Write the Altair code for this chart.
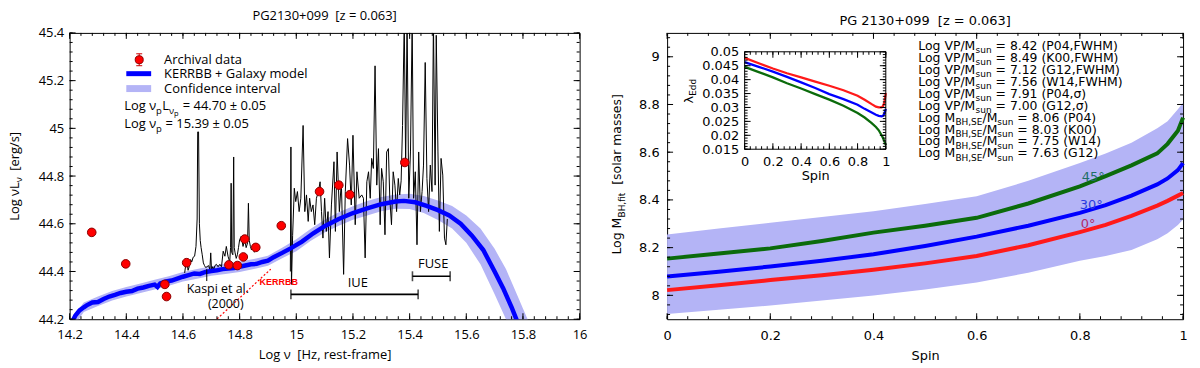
import altair as alt
import pandas as pd

# ---------------- left panel data ----------------
arch_nu = [14.278, 14.398, 14.536, 14.542, 14.613, 14.762, 14.792, 14.813, 14.818, 14.857, 14.947, 15.082, 15.150, 15.189, 15.383]
arch_L = [44.564, 44.432, 44.346, 44.295, 44.437, 44.428, 44.425, 44.461, 44.536, 44.501, 44.592, 44.735, 44.762, 44.722, 44.857]

model_nu = [14.21, 14.22, 14.235, 14.25, 14.26, 14.28, 14.30, 14.32, 14.34, 14.36,
            14.38, 14.40, 14.42, 14.44, 14.46, 14.48, 14.50, 14.51, 14.52, 14.54,
            14.56, 14.58, 14.60, 14.62, 14.64, 14.66, 14.68, 14.70, 14.72, 14.74,
            14.76, 14.78, 14.80, 14.82, 14.84, 14.86, 14.88, 14.90, 14.92, 14.95,
            14.98, 15.02, 15.06, 15.10, 15.15, 15.20, 15.25, 15.30, 15.35, 15.38,
            15.42, 15.46, 15.50, 15.54, 15.58, 15.62, 15.66, 15.70, 15.73, 15.76, 15.78]
model_L = [44.19, 44.215, 44.237, 44.25, 44.258, 44.27, 44.272, 44.285, 44.295, 44.302,
           44.31, 44.315, 44.318, 44.328, 44.333, 44.34, 44.345, 44.335, 44.35, 44.358,
           44.362, 44.37, 44.378, 44.385, 44.392, 44.39, 44.398, 44.402, 44.405, 44.41,
           44.412, 44.415, 44.42, 44.425, 44.43, 44.432, 44.44, 44.445, 44.46, 44.478,
           44.497, 44.525, 44.56, 44.59, 44.62, 44.645, 44.665, 44.682, 44.693, 44.696,
           44.69, 44.675, 44.657, 44.635, 44.60, 44.55, 44.49, 44.40, 44.33, 44.25, 44.19]

band_nu = [14.20, 14.25, 14.30, 14.35, 14.40, 14.45, 14.50, 14.55, 14.60, 14.65,
           14.70, 14.75, 14.80, 14.85, 14.90, 14.95, 15.00, 15.05, 15.10, 15.15,
           15.20, 15.25, 15.30, 15.35, 15.40, 15.45, 15.50, 15.55, 15.60, 15.65,
           15.70, 15.74, 15.78, 15.80, 15.82]
band_hi = [44.195, 44.27, 44.295, 44.318, 44.335, 44.35, 44.365, 44.38, 44.398, 44.41,
           44.422, 44.432, 44.442, 44.452, 44.466, 44.50, 44.535, 44.578, 44.617, 44.648,
           44.673, 44.695, 44.712, 44.723, 44.726, 44.716, 44.698, 44.675, 44.635, 44.58,
           44.495, 44.41, 44.30, 44.245, 44.19]
band_lo = [44.145, 44.23, 44.255, 44.278, 44.295, 44.31, 44.325, 44.34, 44.358, 44.37,
           44.382, 44.39, 44.398, 44.41, 44.424, 44.456, 44.485, 44.528, 44.563, 44.592,
           44.617, 44.635, 44.652, 44.663, 44.662, 44.645, 44.616, 44.58, 44.52, 44.43,
           44.305, 44.20, 44.08, 44.02, 43.95]

opt_nu = [14.606, 14.610, 14.614, 14.618, 14.622, 14.627, 14.631, 14.636, 14.641, 14.646,
          14.650, 14.652, 14.655, 14.658, 14.661, 14.664, 14.668, 14.672, 14.676, 14.680,
          14.685, 14.690, 14.695, 14.698, 14.701, 14.705, 14.709, 14.713, 14.718, 14.724,
          14.730, 14.736, 14.742, 14.748, 14.753, 14.759, 14.765, 14.768, 14.770, 14.772,
          14.776, 14.779, 14.781, 14.784, 14.788, 14.792, 14.796, 14.800, 14.806, 14.812,
          14.818, 14.823, 14.828, 14.831, 14.834, 14.838, 14.842, 14.847, 14.852]
opt_L = [44.394, 44.43, 44.44, 44.405, 44.42, 44.45, 44.44, 44.46, 44.464, 44.505,
         44.62, 44.985, 44.985, 44.60, 44.53, 44.50, 44.47, 44.436, 44.425, 44.417,
         44.42, 44.425, 44.41, 44.478, 44.40, 44.42, 44.41, 44.425, 44.43, 44.42,
         44.43, 44.42, 44.485, 44.464, 44.505, 44.464, 44.44, 44.50, 44.77, 44.48,
         44.47, 44.88, 44.50, 44.478, 44.455, 44.47, 44.50, 44.533, 44.548, 44.505,
         44.533, 44.50, 44.52, 44.686, 44.53, 44.505, 44.49, 44.50, 44.48]

uv_nu = [14.979, 14.981, 14.983, 14.987, 14.993, 14.998, 15.004, 15.010, 15.016, 15.024,
         15.030, 15.036, 15.042, 15.047, 15.053, 15.059, 15.065, 15.071, 15.078, 15.084,
         15.089, 15.094, 15.100, 15.106, 15.112, 15.117, 15.124, 15.133, 15.138, 15.144,
         15.152, 15.159, 15.167, 15.173, 15.181, 15.188, 15.194, 15.200, 15.208, 15.214,
         15.222, 15.231, 15.237, 15.243, 15.249, 15.255, 15.261, 15.266, 15.272, 15.278,
         15.284, 15.290, 15.296, 15.301, 15.307, 15.313, 15.319, 15.325, 15.330, 15.336,
         15.342, 15.348, 15.354, 15.360, 15.365, 15.370, 15.375, 15.381, 15.386, 15.391,
         15.397, 15.403, 15.409, 15.414, 15.420, 15.426, 15.432, 15.438, 15.444, 15.449,
         15.455, 15.461, 15.467, 15.473, 15.479, 15.484, 15.490, 15.494, 15.500, 15.505,
         15.511, 15.517, 15.523, 15.528, 15.533]
uv_L = [44.40, 44.922, 44.346, 44.55, 44.749, 44.693, 44.735, 44.651, 44.707, 45.012,
        44.651, 44.721, 44.61, 44.707, 44.651, 44.679, 44.596, 44.707, 44.735, 44.776,
        44.651, 44.54, 44.707, 44.568, 44.651, 44.457, 44.679, 44.86, 44.568, 44.901,
        44.651, 44.776, 44.388, 44.735, 44.957, 44.846, 44.679, 44.971, 44.596, 44.818,
        44.707, 44.721, 44.707, 44.457, 44.776, 44.818, 44.707, 44.874, 44.832, 45.262,
        44.762, 44.915, 44.596, 44.832, 44.776, 44.554, 44.901, 44.915, 44.707, 44.596,
        44.818, 44.762, 44.651, 44.79, 44.721, 44.78, 45.012, 45.45, 44.846, 45.45,
        44.707, 44.901, 45.45, 44.707, 44.818, 44.512, 44.901, 44.651, 44.735, 44.846,
        45.276, 44.79, 44.651, 44.846, 44.735, 45.45, 44.762, 45.39, 44.901, 44.568,
        44.874, 44.804, 44.54, 44.512, 44.62]

kerrbb_nu = [14.71, 14.91]
kerrbb_L = [44.19, 44.41]

bar_names = ["IUE", "FUSE"]
bar_start = [14.981, 15.41]
bar_end = [15.43, 15.543]
bar_L = [44.304, 44.38]
bar_label_nu = [15.217, 15.483]
bar_label_L = [44.35, 44.432]

ann_text = ["Kaspi et al.", "(2000)"]
ann_nu = [14.723, 14.751]
ann_L = [44.327, 44.263]
kaspi_mark_nu = [14.684]
kaspi_mark_lo = [44.36]
kaspi_mark_hi = [44.41]
kerrbb_label_nu = [14.938]
kerrbb_label_L = [44.355]

legend_labels = ["Archival data", "KERRBB + Galaxy model", "Confidence interval"]
peak_lum = "44.70 ± 0.05"
peak_nu = "15.39 ± 0.05"

# ---------------- right panel data ----------------
spin = [0, 0.1, 0.2, 0.3, 0.4, 0.5, 0.6, 0.7, 0.8, 0.85, 0.9, 0.95, 0.97, 0.99, 1.0]
m_0 = [8.022, 8.042, 8.064, 8.084, 8.107, 8.134, 8.165, 8.21, 8.265, 8.295, 8.333, 8.376, 8.396, 8.418, 8.429]
m_30 = [8.079, 8.099, 8.121, 8.145, 8.172, 8.207, 8.246, 8.292, 8.346, 8.378, 8.418, 8.465, 8.49, 8.525, 8.554]
m_45 = [8.154, 8.175, 8.197, 8.228, 8.263, 8.292, 8.325, 8.385, 8.457, 8.50, 8.545, 8.595, 8.635, 8.69, 8.745]
m_band_hi = [8.255, 8.28, 8.304, 8.328, 8.353, 8.383, 8.415, 8.48, 8.555, 8.595, 8.64, 8.70, 8.73, 8.78, 8.807]
m_band_lo = [7.922, 7.94, 7.957, 7.978, 7.999, 8.025, 8.054, 8.095, 8.145, 8.165, 8.19, 8.235, 8.26, 8.295, 8.318]
incl = ["0°", "30°", "45°"]
incl_label_spin = [0.816, 0.822, 0.826]
incl_label_m = [8.297, 8.38, 8.496]

spin_in = [0, 0.1, 0.2, 0.3, 0.4, 0.5, 0.6, 0.7, 0.8, 0.85, 0.9, 0.93, 0.95, 0.97, 0.98, 0.99, 1.0]
lam_0 = [0.0478, 0.0459, 0.0440, 0.0423, 0.0408, 0.0393, 0.0378, 0.0362, 0.0342, 0.0328, 0.0312, 0.0303, 0.0300, 0.0300, 0.0305, 0.0318, 0.0352]
lam_30 = [0.0463, 0.0446, 0.0429, 0.0410, 0.0390, 0.0370, 0.0348, 0.0330, 0.0310, 0.0295, 0.0282, 0.0274, 0.0270, 0.0268, 0.0270, 0.0278, 0.0295]
lam_45 = [0.0446, 0.0427, 0.0408, 0.0387, 0.0368, 0.0348, 0.0328, 0.0306, 0.0280, 0.0264, 0.0244, 0.0230, 0.0218, 0.0200, 0.0190, 0.0178, 0.0165]

vp_values = ["8.42 (P04,FWHM)", "8.49 (K00,FWHM)", "7.12 (G12,FWHM)", "7.56 (W14,FWHM)", "7.91 (P04,σ)", "7.00 (G12,σ)"]
se_values = ["8.06 (P04)", "8.03 (K00)", "7.75 (W14)", "7.63 (G12)"]

# ---------------- styling ----------------
FL = "Open Sans"
FR = "DejaVu Sans"
WL, WR, H = 513, 519, 288
NB = "\u00a0"
C_RED, C_BLUE, C_GREEN = "#ff1a1a", "#0000ff", "#0b6b0b"
BAND = "#b4b4f6"
INC_COLORS = [C_RED, C_BLUE, C_GREEN]
INC_LABEL_COLORS = ["#b02a6a", "#2a3ae0", "#1f6f66"]
BIG, SMALL = 6, 3

DV = {"L": .557, "o": .612, "g": .635, " ": .318, "V": .684, "P": .603, "/": .337, "M": .863,
      "s": .521, "u": .634, "n": .634, "B": .686, "H": .752, ",": .318, "S": .635, "E": .632,
      "f": .352, "i": .278, "t": .392, "λ": .592, "d": .635}
OS = {"L": .533, "o": .604, "g": .543, " ": .26, "ν": .507, "p": .613}


def wdv(s, size):
    return sum(DV[c] for c in s) * size


def wos(s, size):
    return sum(OS[c] for c in s) * size


def tvals(a, b, step):
    n = int(round((b - a) / step))
    return [round(a + i * step, 6) for i in range(n + 1)]


one = pd.DataFrame({"k": [0]})


def ptxt(s, x, y, size, font, color="black", angle=0, align="left", baseline="alphabetic", weight="normal"):
    return alt.Chart(one).mark_text(text=s, font=font, fontSize=size, color=color, angle=angle,
                                    align=align, baseline=baseline, fontWeight=weight).encode(
        x=alt.value(x), y=alt.value(y))


def edge_ticks(XF, YF, xmaj, xmin, ymaj, ymin, x0, x1, y0, y1):
    """Inward tick marks on the four edges of a frame, positioned through the scales."""
    out = []
    for vals, size in ((xmaj, BIG), (xmin, SMALL)):
        d = pd.DataFrame({"v": vals})
        out.append(alt.Chart(d).mark_rule(color="black", strokeWidth=1).encode(
            x=XF("v"), y=alt.value(y1), y2=alt.value(y1 - size)))
        out.append(alt.Chart(d).mark_rule(color="black", strokeWidth=1).encode(
            x=XF("v"), y=alt.value(y0), y2=alt.value(y0 + size)))
    for vals, size in ((ymaj, BIG), (ymin, SMALL)):
        d = pd.DataFrame({"v": vals})
        out.append(alt.Chart(d).mark_rule(color="black", strokeWidth=1).encode(
            y=YF("v"), x=alt.value(x0), x2=alt.value(x0 + size)))
        out.append(alt.Chart(d).mark_rule(color="black", strokeWidth=1).encode(
            y=YF("v"), x=alt.value(x1), x2=alt.value(x1 - size)))
    return out


# ================= LEFT PANEL =================
xL = alt.Scale(domain=[14.2, 16], nice=False, zero=False)
yL = alt.Scale(domain=[44.2, 45.4], nice=False, zero=False)
axLx = alt.Axis(orient="bottom", values=tvals(14.2, 16, 0.2), format="~g", labelFont=FL, labelFontSize=13,
                labelColor="black", labelPadding=9, ticks=False, tickSize=0, domain=False, grid=False,
                labelFlush=False, labelOverlap=False,
                title="Log ν" + NB + " [Hz, rest-frame]", titleFont=FL, titleFontSize=13,
                titleFontWeight="normal", titleColor="black", titlePadding=8)
axLy = alt.Axis(orient="left", values=tvals(44.2, 45.4, 0.2), format="~g", labelFont=FL, labelFontSize=13,
                labelColor="black", labelPadding=6, ticks=False, tickSize=0, domain=False, grid=False,
                labelFlush=False, labelOverlap=False, title=None)


def XL(f):
    return alt.X(f + ":Q", scale=xL, axis=axLx)


def YL(f):
    return alt.Y(f + ":Q", scale=yL, axis=axLy)


df_band = pd.DataFrame({"nu": band_nu, "lo": band_lo, "hi": band_hi})
df_model = pd.DataFrame({"nu": model_nu, "L": model_L})
df_spec = pd.concat([pd.DataFrame({"nu": opt_nu, "L": opt_L, "seg": "opt"}),
                     pd.DataFrame({"nu": uv_nu, "L": uv_L, "seg": "uv"})], ignore_index=True)
df_arch = pd.DataFrame({"nu": arch_nu, "L": arch_L})
df_kerr = pd.DataFrame({"nu": kerrbb_nu, "L": kerrbb_L})
df_bars = pd.DataFrame({"name": bar_names, "s": bar_start, "e": bar_end, "L": bar_L,
                        "lnu": bar_label_nu, "lL": bar_label_L})
df_caps = pd.DataFrame({"nu": bar_start + bar_end, "L": bar_L + bar_L})
df_ann = pd.DataFrame({"t": ann_text, "nu": ann_nu, "L": ann_L})
df_kmark = pd.DataFrame({"nu": kaspi_mark_nu, "lo": kaspi_mark_lo, "hi": kaspi_mark_hi})
df_klab = pd.DataFrame({"nu": kerrbb_label_nu, "L": kerrbb_label_L, "t": ["KERRBB"]})

band_l = alt.Chart(df_band).mark_area(color=BAND, opacity=1, clip=True).encode(x=XL("nu"), y=YL("lo"), y2="hi:Q")
spec_l = alt.Chart(df_spec).mark_line(color="black", strokeWidth=1, clip=True).encode(
    x=XL("nu"), y=YL("L"), detail="seg:N", order="nu:Q")
kerr_l = alt.Chart(df_kerr).mark_line(color="red", strokeWidth=1.2, strokeDash=[2, 2], clip=True).encode(
    x=XL("nu"), y=YL("L"))
model_l = alt.Chart(df_model).mark_line(color=C_BLUE, strokeWidth=4.5, clip=True).encode(x=XL("nu"), y=YL("L"))
arch_l = alt.Chart(df_arch).mark_point(shape="circle", filled=True, size=75, fill="#ff0000", stroke="#8b0000",
                                       strokeWidth=1, opacity=1).encode(x=XL("nu"), y=YL("L"))
bars_l = alt.Chart(df_bars).mark_rule(color="black", strokeWidth=1.6).encode(x=XL("s"), x2="e:Q", y=YL("L"))
caps_l = alt.Chart(df_caps).mark_tick(color="black", orient="vertical", size=10, thickness=1.6).encode(
    x=XL("nu"), y=YL("L"))
barlab_l = alt.Chart(df_bars).mark_text(font=FL, fontSize=13, color="black").encode(
    x=XL("lnu"), y=YL("lL"), text="name:N")
ann_l = alt.Chart(df_ann).mark_text(font=FL, fontSize=12.5, color="black").encode(x=XL("nu"), y=YL("L"), text="t:N")
kmark_l = alt.Chart(df_kmark).mark_rule(color="black", strokeWidth=1).encode(x=XL("nu"), y=YL("lo"), y2="hi:Q")
klab_l = alt.Chart(df_klab).mark_text(font="Liberation Sans", fontSize=9, fontWeight="bold", color="red").encode(
    x=XL("nu"), y=YL("L"), text="t:N")

left_ticks = edge_ticks(XL, YL, tvals(14.2, 16, 0.2), tvals(14.2, 16, 0.04),
                        tvals(44.2, 45.4, 0.2), tvals(44.2, 45.4, 0.04), 0, WL, 0, H)

# legend (manual)
leg = [
    alt.Chart(one).mark_rule(color="#cc0000", strokeWidth=1).encode(x=alt.value(70), y=alt.value(21), y2=alt.value(33)),
    alt.Chart(one).mark_rule(color="#cc0000", strokeWidth=1).encode(x=alt.value(67), x2=alt.value(73), y=alt.value(21)),
    alt.Chart(one).mark_rule(color="#cc0000", strokeWidth=1).encode(x=alt.value(67), x2=alt.value(73), y=alt.value(33)),
    alt.Chart(one).mark_point(shape="circle", filled=True, size=65, fill="#ff0000", stroke="#8b0000", strokeWidth=1,
                              opacity=1).encode(x=alt.value(70), y=alt.value(27)),
    alt.Chart(one).mark_rule(color=C_BLUE, strokeWidth=5, strokeCap="butt").encode(x=alt.value(57), x2=alt.value(82), y=alt.value(41)),
    alt.Chart(one).mark_rule(color=BAND, strokeWidth=7, strokeCap="butt").encode(x=alt.value(57), x2=alt.value(82), y=alt.value(56)),
]
for lab, yy in zip(legend_labels, [27, 41.5, 56]):
    leg.append(ptxt(lab, 95, yy, 13, FL, baseline="middle"))

# peak equations with subscripts
FS1, FS2, FS3 = 13, 9.5, 7.5
ex0 = 55
yb1, yb2 = 78, 96
xa = ex0 + wos("Log ν", FS1)
xb = xa + wos("p", FS2) + 0.5
xc = xb + wos("L", FS1)
xd = xc + wos("ν", FS2)
xe = xd + wos("p", FS3) + 1 + wos(" ", FS1)
xf = xb + wos(" ", FS1)
leg += [
    ptxt("Log ν", ex0, yb1, FS1, FL), ptxt("p", xa, yb1 + 3.5, FS2, FL), ptxt("L", xb, yb1, FS1, FL),
    ptxt("ν", xc, yb1 + 3.5, FS2, FL), ptxt("p", xd, yb1 + 6, FS3, FL),
    ptxt("= " + peak_lum, xe, yb1, FS1, FL),
    ptxt("Log ν", ex0, yb2, FS1, FL), ptxt("p", xa, yb2 + 3.5, FS2, FL),
    ptxt("= " + peak_nu, xf, yb2, FS1, FL),
]

# y title (rotated, with subscript)
ty0 = 189
tx0 = -51
yt1 = ty0 - wos("Log νL", 13)
yt2 = yt1 - wos("ν", 9.5) - 2 * wos(" ", 13)
leg += [
    ptxt("Log νL", tx0, ty0, 13, FL, angle=270),
    ptxt("ν", tx0 + 3.5, yt1, 9.5, FL, angle=270),
    ptxt("[erg/s]", tx0, yt2, 13, FL, angle=270),
]

left = alt.layer(band_l, spec_l, kerr_l, model_l, arch_l, bars_l, caps_l, barlab_l, ann_l, kmark_l, klab_l,
                 *left_ticks, *leg).properties(
    width=WL, height=H,
    title=alt.TitleParams("PG2130+099" + NB + " [z = 0.063]", font=FL, fontSize=13, fontWeight="normal",
                          color="black", offset=4, anchor="middle"))

# ================= RIGHT PANEL =================
xR = alt.Scale(domain=[0, 1], nice=False, zero=False)
yR = alt.Scale(domain=[7.9, 9.1], nice=False, zero=False)
axRx = alt.Axis(orient="bottom", values=tvals(0, 1, 0.2), format="~g", labelFont=FR, labelFontSize=13,
                labelColor="black", labelPadding=10, ticks=False, tickSize=0, domain=False, grid=False,
                labelFlush=False, labelOverlap=False, title="Spin", titleFont=FR, titleFontSize=13,
                titleFontWeight="normal", titleColor="black", titlePadding=8)
axRy = alt.Axis(orient="left", values=tvals(8, 9, 0.2), format="~g", labelFont=FR, labelFontSize=13,
                labelColor="black", labelPadding=8, ticks=False, tickSize=0, domain=False, grid=False,
                labelFlush=False, labelOverlap=False, title=None)
inc_scale = alt.Scale(domain=incl, range=INC_COLORS)


def XR(f):
    return alt.X(f + ":Q", scale=xR, axis=axRx)


def YR(f):
    return alt.Y(f + ":Q", scale=yR, axis=axRy)


df_m = pd.concat([pd.DataFrame({"spin": spin, "m": m, "inc": i})
                  for m, i in zip([m_0, m_30, m_45], incl)], ignore_index=True)
df_mb = pd.DataFrame({"spin": spin, "lo": m_band_lo, "hi": m_band_hi})
df_il = pd.DataFrame({"spin": incl_label_spin, "m": incl_label_m, "t": incl, "c": INC_LABEL_COLORS})

band_r = alt.Chart(df_mb).mark_area(color=BAND, opacity=1).encode(x=XR("spin"), y=YR("lo"), y2="hi:Q")
lines_r = alt.Chart(df_m).mark_line(strokeWidth=4).encode(
    x=XR("spin"), y=YR("m"), color=alt.Color("inc:N", scale=inc_scale, legend=None))
lab_r = alt.Chart(df_il).mark_text(font=FR, fontSize=13).encode(
    x=XR("spin"), y=YR("m"), text="t:N", color=alt.Color("c:N", scale=None))
right_ticks = edge_ticks(XR, YR, tvals(0, 1, 0.2), tvals(0, 1, 0.04),
                         tvals(8, 9, 0.2), tvals(7.92, 9.08, 0.04), 0, WR, 0, H)
right_main = alt.layer(band_r, lines_r, lab_r, *right_ticks)

# inset
IX0, IX1, IY0, IY1 = 78, 220, 19, 117
xI = alt.Scale(domain=[0, 1], range=[IX0, IX1], nice=False, zero=False)
yI = alt.Scale(domain=[0.015, 0.05], range=[IY1, IY0], nice=False, zero=False)
axIx = alt.Axis(orient="bottom", offset=IY1 - H, values=tvals(0, 1, 0.2), format="~g", labelFont=FR,
                labelFontSize=13, labelColor="black", labelPadding=6, ticks=False, tickSize=0, domain=False,
                grid=False, labelFlush=False, labelOverlap=False, title="Spin", titleFont=FR, titleFontSize=13,
                titleFontWeight="normal", titleColor="black", titlePadding=1)
axIy = alt.Axis(orient="left", offset=-IX0, values=tvals(0.015, 0.05, 0.005), format="~g", labelFont=FR,
                labelFontSize=13, labelColor="black", labelPadding=6, ticks=False, tickSize=0, domain=False,
                grid=False, labelFlush=False, labelOverlap=False, title=None)


def XI(f):
    return alt.X(f + ":Q", scale=xI, axis=axIx)


def YI(f):
    return alt.Y(f + ":Q", scale=yI, axis=axIy)


df_in = pd.concat([pd.DataFrame({"spin": spin_in, "lam": l, "inc": i})
                   for l, i in zip([lam_0, lam_30, lam_45], incl)], ignore_index=True)
inset_lines = alt.Chart(df_in).mark_line(strokeWidth=2.3).encode(
    x=XI("spin"), y=YI("lam"), color=alt.Color("inc:N", scale=inc_scale, legend=None))
inset_ticks = edge_ticks(XI, YI, tvals(0, 1, 0.2), tvals(0, 1, 0.04),
                         tvals(0.015, 0.05, 0.005), tvals(0.015, 0.05, 0.001), IX0, IX1, IY0, IY1)
inset = alt.layer(inset_lines, *inset_ticks)

# text block
RT = [alt.Chart(one).mark_rect(fill="white", fillOpacity=0, stroke="black", strokeWidth=1).encode(
    x=alt.value(IX0), x2=alt.value(IX1), y=alt.value(IY0), y2=alt.value(IY1))]
FSR, FSRs = 12.5, 9
rx0, rb0, rlh = 252.7, 17, 12.03
for k, v in enumerate(vp_values):
    yb = rb0 + rlh * k
    x1 = rx0 + wdv("Log VP/M", FSR)
    x2 = x1 + wdv("sun", FSRs) + wdv(" ", FSR)
    RT += [ptxt("Log VP/M", rx0, yb, FSR, FR), ptxt("sun", x1, yb + 3.5, FSRs, FR),
           ptxt("= " + v, x2, yb, FSR, FR)]
for k, v in enumerate(se_values):
    yb = rb0 + rlh * (k + len(vp_values))
    x1 = rx0 + wdv("Log M", FSR)
    x2 = x1 + wdv("BH,SE", FSRs)
    x3 = x2 + wdv("/M", FSR)
    x4 = x3 + wdv("sun", FSRs) + wdv(" ", FSR)
    RT += [ptxt("Log M", rx0, yb, FSR, FR), ptxt("BH,SE", x1, yb + 3.5, FSRs, FR),
           ptxt("/M", x2, yb, FSR, FR), ptxt("sun", x3, yb + 3.5, FSRs, FR),
           ptxt("= " + v, x4, yb, FSR, FR)]

# right y title
rty0, rtx0 = 223, -46
ry1 = rty0 - wdv("Log M", 12.5)
ry2 = ry1 - wdv("BH,fit", 9) - 2 * wdv(" ", 12.5)
RT += [ptxt("Log M", rtx0, rty0, 12.5, FR, angle=270),
       ptxt("BH,fit", rtx0 + 3.5, ry1, 9, FR, angle=270),
       ptxt("[solar masses]", rtx0, ry2, 12.5, FR, angle=270)]
# inset y title
ity0, itx0 = 71, 26
iy1 = ity0 - wdv("λ", 13)
RT += [ptxt("λ", itx0, ity0, 13, FR, angle=270), ptxt("Edd", itx0 + 3.5, iy1, 9, FR, angle=270)]

right = alt.layer(right_main, inset, *RT).resolve_scale(x="independent", y="independent").properties(
    width=WR, height=H,
    title=alt.TitleParams("PG 2130+099" + NB + " [z = 0.063]", font=FR, fontSize=13, fontWeight="normal",
                          color="black", offset=4, anchor="middle"))

chart = alt.hconcat(left, right, spacing=23).configure_view(stroke="black", strokeWidth=1).properties(
    background="white", padding=0)

chart.save("out.html", embed_options={"renderer": "svg", "actions": False})
